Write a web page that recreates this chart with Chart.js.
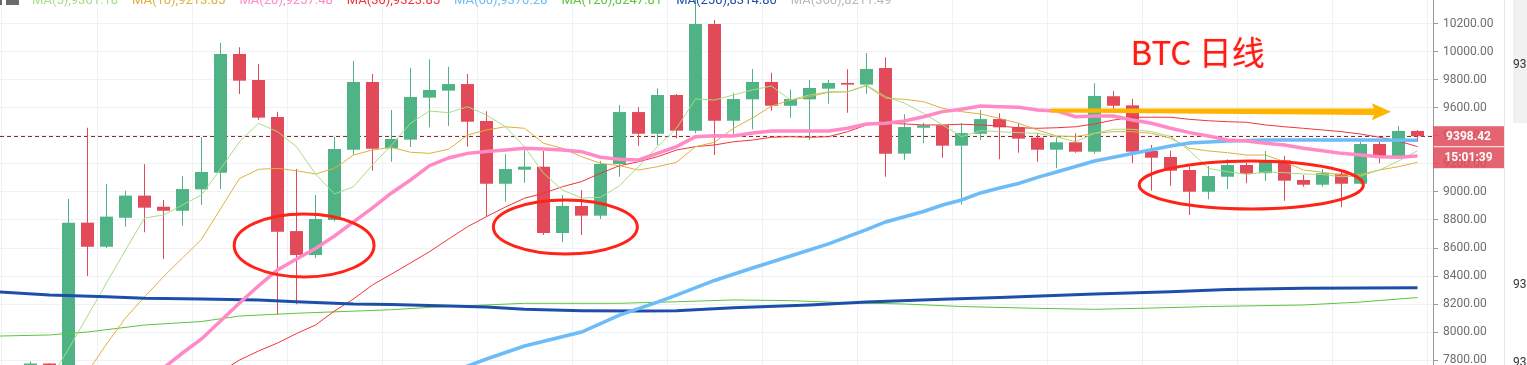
<!DOCTYPE html>
<html>
<head>
<meta charset="utf-8">
<title>BTC 日线</title>
<script src="https://cdn.jsdelivr.net/npm/chart.js@4.4.1/dist/chart.umd.min.js"></script>
<style>
  html, body { margin: 0; padding: 0; background: #fff; overflow: hidden; }
  #wrap { position: relative; width: 1527px; height: 365px; }
</style>
</head>
<body>
<div id="wrap"><canvas id="kline" width="1527" height="365"></canvas></div>
<script>
// daily candles, index 0..73
const opens  = [7700, 7775, 7700, 8781, 8609, 8816, 8974, 8895, 8866, 9019,
                9138, 9986, 9800, 9536, 8721, 8550, 8800, 9302, 9786, 9312,
                9374, 9674, 9724, 9771, 9507, 9059, 9159, 9181, 8707, 8900,
                8831, 9200, 9571, 9416, 9693, 9438, 10200, 9509, 9662, 9786,
                9616, 9662, 9738, 9779, 9767, 9886, 9274, 9459, 9476, 9331,
                9416, 9521, 9462, 9388, 9302, 9355, 9288, 9684, 9619, 9293,
                9250, 9157, 9002, 9109, 9193, 9134, 9226, 9086, 9052, 9131,
                9059, 9343, 9257, 9436];
const highs  = [7790, 7778, 8950, 9459, 9057, 9009, 9198, 8943, 9114, 9391,
                10066, 10034, 9914, 9574, 9164, 8979, 9395, 9936, 9843, 9586,
                9886, 9948, 9895, 9843, 9576, 9269, 9309, 9293, 8979, 9014,
                9221, 9621, 9605, 9741, 9700, 10400, 10229, 9705, 9879, 9852,
                9733, 9800, 9800, 9876, 9993, 9962, 9555, 9495, 9480, 9491,
                9586, 9562, 9491, 9419, 9391, 9419, 9776, 9721, 9666, 9336,
                9295, 9181, 9186, 9234, 9209, 9293, 9259, 9121, 9164, 9157,
                9359, 9359, 9471, 9443];
const lows   = [7650, 7650, 7650, 8400, 8600, 8752, 8712, 8521, 8759, 8907,
                9021, 9700, 9514, 8121, 8198, 8526, 8790, 9264, 9152, 9216,
                9321, 9462, 9471, 9324, 8824, 8931, 9066, 8693, 8641, 8693,
                8807, 9109, 9329, 9336, 9384, 9419, 9264, 9395, 9448, 9581,
                9531, 9371, 9631, 9566, 9702, 9109, 9231, 9348, 9245, 8909,
                9371, 9234, 9281, 9216, 9169, 9281, 9274, 9586, 9205, 9009,
                9045, 8836, 8948, 9021, 9062, 9079, 8938, 9038, 9038, 8891,
                9055, 9205, 9234, 9359];
const closes = [7775, 7700, 8781, 8609, 8824, 8974, 8888, 8866, 9021, 9143,
                9986, 9795, 9531, 8716, 8550, 8807, 9307, 9786, 9309, 9379,
                9679, 9729, 9771, 9502, 9059, 9164, 9181, 8707, 8900, 8831,
                9200, 9571, 9416, 9693, 9438, 10200, 9509, 9664, 9786, 9616,
                9664, 9743, 9779, 9767, 9879, 9274, 9464, 9476, 9331, 9421,
                9521, 9462, 9381, 9302, 9355, 9288, 9686, 9616, 9288, 9245,
                9152, 9002, 9114, 9193, 9131, 9226, 9081, 9052, 9134, 9059,
                9343, 9252, 9436, 9398];

// moving averages read per candle (first index given)
const ma5Start = 1;
const ma5 = [7657, 7879, 8114, 8350, 8586, 8814, 8836, 8907, 8979, 9164,
             9359, 9491, 9431, 9324, 9129, 8986, 9038, 9193, 9336, 9491,
             9579, 9566, 9609, 9550, 9466, 9324, 9134, 9014, 8957, 8962,
             9045, 9181, 9324, 9455, 9664, 9657, 9693, 9729, 9757, 9657,
             9693, 9716, 9716, 9764, 9681, 9634, 9562, 9479, 9395, 9438,
             9431, 9424, 9419, 9395, 9359, 9419, 9448, 9448, 9431, 9396,
             9296, 9168, 9145, 9125, 9143, 9138, 9129, 9125, 9109, 9114,
             9157, 9221, 9295];
const ma10Start = 3;
const ma10 = [7714, 7914, 8100, 8250, 8395, 8529, 8662, 8880, 9096, 9162,
              9169, 9152, 9129, 9169, 9264, 9300, 9319, 9284, 9276, 9305,
              9407, 9443, 9466, 9455, 9348, 9312, 9252, 9205, 9188, 9157,
              9181, 9212, 9324, 9355, 9455, 9529, 9614, 9657, 9681, 9712,
              9716, 9759, 9669, 9662, 9645, 9598, 9574, 9557, 9526, 9491,
              9443, 9400, 9395, 9419, 9431, 9431, 9419, 9384, 9312, 9293,
              9281, 9264, 9264, 9216, 9157, 9141, 9121, 9126, 9157, 9181,
              9212];
const ma20Start = 7;
const ma20 = [7743, 7850, 7950, 8079, 8207, 8329, 8443, 8521, 8596, 8686,
              8786, 8886, 8993, 9086, 9188, 9243, 9276, 9289, 9300, 9312,
              9307, 9300, 9288, 9248, 9234, 9229, 9276, 9324, 9395, 9402,
              9400, 9421, 9436, 9436, 9436, 9436, 9455, 9486, 9491, 9507,
              9538, 9574, 9591, 9614, 9609, 9605, 9586, 9579, 9538, 9543,
              9543, 9514, 9491, 9455, 9424, 9400, 9371, 9364, 9348, 9336,
              9312, 9295, 9276, 9264, 9252, 9248, 9257];
const ma30Start = 10;
const ma30 = [7714, 7800, 7864, 7921, 7989, 8050, 8150, 8236, 8336, 8414,
              8493, 8574, 8664, 8752, 8824, 8893, 8955, 8991, 9038, 9074,
              9134, 9188, 9216, 9252, 9300, 9324, 9336, 9359, 9371, 9391,
              9395, 9391, 9395, 9431, 9479, 9491, 9486, 9479, 9479, 9484,
              9479, 9471, 9459, 9455, 9459, 9466, 9486, 9514, 9534, 9534,
              9534, 9519, 9509, 9502, 9498, 9479, 9466, 9455, 9443, 9431,
              9414, 9391, 9364, 9324];

// slower averages, read at sampled candles
const ma60Idx = [22, 23, 24, 26, 29, 31, 33, 34, 36, 38, 40, 42, 44, 45, 47, 48,
                 49, 50, 51, 52, 53, 54, 55, 56, 58, 60, 61, 63, 65, 67, 70, 73];
const ma60 = [7714, 7757, 7807, 7900, 8000, 8121, 8214, 8264, 8368, 8457, 8543,
              8629, 8732, 8786, 8861, 8907, 8943, 8993, 9029, 9061, 9104, 9143,
              9182, 9221, 9275, 9329, 9350, 9364, 9371, 9371, 9371, 9370];
const ma120Idx = [-2, 1, 3, 6, 9, 11, 14, 19, 21, 26, 31, 34, 37, 40, 43, 46,
                  49, 53, 56, 59, 62, 67, 70, 73];
const ma120 = [7970, 7979, 8000, 8050, 8075, 8114, 8134, 8159, 8176, 8205, 8205,
               8216, 8229, 8224, 8209, 8200, 8182, 8169, 8162, 8171, 8182, 8193,
               8214, 8246];
const ma250Idx = [-2, 1, 4, 6, 9, 12, 14, 17, 19, 24, 26, 29, 32, 34, 37, 41,
                  44, 48, 51, 56, 60, 63, 67, 73];
const ma250 = [8290, 8264, 8252, 8241, 8236, 8229, 8216, 8200, 8196, 8179, 8162,
               8152, 8150, 8152, 8174, 8193, 8214, 8234, 8246, 8271, 8288, 8304,
               8312, 8316];

const yTicks = [7800, 8000, 8200, 8400, 8600, 8800, 9000, 9200, 9400, 9600, 9800, 10000, 10200];
const xGridIdx = [1, 6, 11, 16, 21, 26, 31, 36, 41, 46, 51, 56, 61, 66, 71];

const legendNames = ['MA(5)', 'MA(10)', 'MA(20)', 'MA(30)', 'MA(60)', 'MA(120)', 'MA(250)', 'MA(360)'];
const legendValues = ['9301.18', '9213.85', '9257.48', '9323.85', '9370.28', '8247.81', '8314.80', '8211.49'];

const lastPrice = 9398.42;
const countdown = '15:01:39';
const sideLabel = '93';

// hand-drawn marks, in candle index / price units
const rings = [
  { i: 14.4, p: 8618, ri: 3.68, rp: 225 },
  { i: 28.15, p: 8750, ri: 3.79, rp: 193 },
  { i: 64.25, p: 9050, ri: 5.9, rp: 171 }
];
const arrow = { i0: 53.7, p0: 9582, i1: 71.6, p1: 9573 };
const note = { text: 'BTC 日线', i: 57.9, p: 9907 };

// visible window
const xMin = -30.5 / 19;
const xMax = xMin + 1433 / 19;
const yMin = 7764.3;
const yMax = 10371.4;

const UP = '#4fb385';
const DOWN = '#e24a59';
const maColors = ['#a6dd86', '#deb13c', '#ff8ac6', '#f0343c', '#6dbcf7', '#5cc43c', '#1d4faa', '#b8b8b8'];
const gridColor = '#eef2f6';

const candleColors = opens.map((o, i) => closes[i] >= o ? UP : DOWN);

function seq(start, vals) {
  return vals.map((v, k) => ({ x: start + k, y: v }));
}
function pairs(idx, vals) {
  return idx.map((x, k) => ({ x: x, y: vals[k] }));
}
function maLine(data, color, width, order) {
  return {
    type: 'line',
    data: data,
    borderColor: color,
    borderWidth: width,
    pointRadius: 0,
    tension: 0,
    fill: false,
    order: order
  };
}

const overlay = {
  id: 'overlay',
  beforeDatasetsDraw(chart) {
    const { ctx, chartArea, scales: { y } } = chart;
    const py = Math.round(y.getPixelForValue(lastPrice)) + 0.5;
    ctx.save();
    ctx.strokeStyle = '#8e2b2b';
    ctx.lineWidth = 1;
    ctx.setLineDash([4, 3]);
    ctx.beginPath();
    ctx.moveTo(chartArea.left, py);
    ctx.lineTo(chartArea.right, py);
    ctx.stroke();
    ctx.restore();
  },
  afterDatasetsDraw(chart) {
    const { ctx, scales: { x, y } } = chart;
    ctx.save();

    // red rings
    ctx.strokeStyle = '#ff2418';
    ctx.lineWidth = 3;
    rings.forEach(r => {
      const cx = x.getPixelForValue(r.i);
      const cy = y.getPixelForValue(r.p);
      const rx = x.getPixelForValue(r.i + r.ri) - cx;
      const ry = cy - y.getPixelForValue(r.p + r.rp);
      ctx.beginPath();
      ctx.ellipse(cx, cy, rx, ry, 0, 0, Math.PI * 2);
      ctx.stroke();
    });

    // orange arrow
    const ax0 = x.getPixelForValue(arrow.i0), ay0 = y.getPixelForValue(arrow.p0);
    const ax1 = x.getPixelForValue(arrow.i1), ay1 = y.getPixelForValue(arrow.p1);
    const headLen = 17, headHalf = 8.5;
    const bx = ax1 - headLen;
    const by = ay0 + (ay1 - ay0) * (bx - ax0) / (ax1 - ax0);
    ctx.fillStyle = '#ffb400';
    ctx.beginPath();
    ctx.moveTo(ax0, ay0 - 2);
    ctx.lineTo(bx, by - 3.3);
    ctx.lineTo(bx - 2, by - headHalf);
    ctx.lineTo(ax1, ay1);
    ctx.lineTo(bx - 2, by + headHalf);
    ctx.lineTo(bx, by + 3.3);
    ctx.lineTo(ax0, ay0 + 2);
    ctx.closePath();
    ctx.fill();

    // title text
    ctx.fillStyle = '#ff1c12';
    ctx.shadowColor = 'rgba(255,40,20,0.35)';
    ctx.shadowBlur = 1.5;
    ctx.font = '33px "Noto Sans CJK SC", sans-serif';
    ctx.textBaseline = 'alphabetic';
    ctx.fillText(note.text, x.getPixelForValue(note.i), y.getPixelForValue(note.p));
    ctx.restore();
  },
  afterDraw(chart) {
    const { ctx, scales: { y } } = chart;
    ctx.save();

    // clipped legend row along the top
    ctx.font = '13px Roboto, sans-serif';
    ctx.textBaseline = 'alphabetic';
    let lx = 32;
    legendNames.forEach((n, k) => {
      const t = n + ',' + legendValues[k];
      ctx.fillStyle = maColors[k];
      ctx.fillText(t, lx, 4);
      lx += ctx.measureText(t).width + 14;
    });
    ctx.fillStyle = '#6a6a6a';
    ctx.fillRect(0, 0, 2, 5);
    ctx.fillRect(6, 0, 13, 5);

    // separator and side panel
    const sepX = y.left + 71;
    ctx.fillStyle = '#e4e6e8';
    ctx.fillRect(sepX, 0, 1, chart.height);
    ctx.fillStyle = '#f1f1f1';
    ctx.fillRect(sepX + 9, 0, chart.width - sepX - 9, 123);
    ctx.fillStyle = '#333';
    ctx.font = '12px Roboto, sans-serif';
    [68, 288, 366].forEach(b => ctx.fillText(sideLabel, sepX + 9, b));

    // last price tag and countdown
    const py = y.getPixelForValue(lastPrice);
    ctx.fillStyle = 'rgba(224, 74, 90, 0.86)';
    ctx.fillRect(y.left, py - 10, 71, 20);
    ctx.fillRect(y.left, py + 11, 71, 21);
    ctx.fillStyle = '#fff';
    ctx.font = 'bold 12px Roboto, sans-serif';
    ctx.textAlign = 'center';
    ctx.textBaseline = 'middle';
    ctx.fillText(lastPrice.toFixed(2), y.left + 35.5, py + 0.5);
    ctx.fillText(countdown, y.left + 35.5, py + 21.5);
    ctx.restore();
  }
};

new Chart(document.getElementById('kline'), {
  type: 'bar',
  data: {
    datasets: [
      maLine(seq(ma5Start, ma5), maColors[0], 1, 2),
      maLine(seq(ma10Start, ma10), maColors[1], 1, 2),
      maLine(seq(ma30Start, ma30), maColors[3], 1, 2),
      maLine(seq(ma20Start, ma20), maColors[2], 3.5, 1),
      maLine(pairs(ma60Idx, ma60), maColors[4], 3.5, 1),
      maLine(pairs(ma120Idx, ma120), maColors[5], 1, 2),
      maLine(pairs(ma250Idx, ma250), maColors[6], 3, 1),
      {
        // candle bodies
        type: 'bar',
        data: opens.map((o, i) => ({ x: i, y: [o, closes[i]] })),
        backgroundColor: candleColors,
        barThickness: 13,
        grouped: false,
        inflateAmount: 0,
        borderWidth: 0,
        order: 5
      },
      {
        // wicks
        type: 'bar',
        data: lows.map((l, i) => ({ x: i, y: [l, highs[i]] })),
        backgroundColor: candleColors,
        barThickness: 1,
        grouped: false,
        inflateAmount: 0,
        borderWidth: 0,
        order: 6
      }
    ]
  },
  options: {
    responsive: false,
    animation: false,
    devicePixelRatio: 1,
    layout: { padding: 0 },
    plugins: {
      legend: { display: false },
      tooltip: { enabled: false }
    },
    scales: {
      x: {
        type: 'linear',
        min: xMin,
        max: xMax,
        bounds: 'data',
        offset: false,
        afterBuildTicks: s => { s.ticks = xGridIdx.map(v => ({ value: v })); },
        ticks: { display: false },
        grid: { color: gridColor, drawTicks: false },
        border: { display: false },
        afterFit: s => { s.height = 0; s.paddingLeft = 0; s.paddingRight = 0; }
      },
      y: {
        type: 'linear',
        position: 'right',
        min: yMin,
        max: yMax,
        bounds: 'data',
        afterBuildTicks: s => { s.ticks = yTicks.map(v => ({ value: v })); },
        ticks: {
          callback: v => Number(v).toFixed(2),
          color: '#6e6e6e',
          font: { family: 'Roboto', size: 12 },
          padding: 5
        },
        grid: { color: gridColor, tickColor: '#9a9a9a', tickLength: 5 },
        border: { display: true, color: '#9a9a9a' },
        afterFit: s => { s.width = 94; s.paddingTop = 0; s.paddingBottom = 0; }
      }
    }
  },
  plugins: [overlay]
});
</script>
</body>
</html>
